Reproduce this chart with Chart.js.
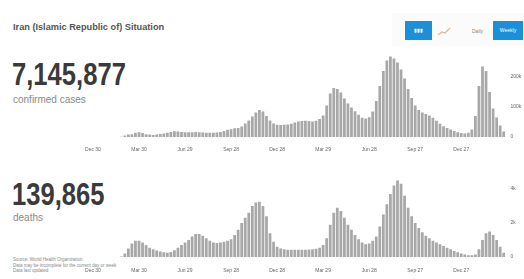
<!DOCTYPE html>
<html><head><meta charset="utf-8">
<script src="https://cdn.jsdelivr.net/npm/chart.js@4/dist/chart.umd.min.js"></script>
<style>
html,body{margin:0;padding:0;background:#fff;width:524px;height:279px;overflow:hidden;font-family:"Liberation Sans",Arial,sans-serif;}
.abs{position:absolute;}
#title{left:13px;top:22px;font-size:9.2px;font-weight:bold;color:#555;white-space:nowrap;}
.big{left:12px;font-size:32px;font-weight:bold;color:#3a3a3a;transform:scaleX(0.8);transform-origin:left top;white-space:nowrap;line-height:1;}
.sub{left:13px;font-size:10px;color:#8a8a8a;white-space:nowrap;}
.btn{background:#1b8fd8;color:#fff;font-size:5px;text-align:center;line-height:19px;height:19px;}
.src{left:13px;font-size:4.5px;color:#888;line-height:5.6px;white-space:nowrap;}
canvas{position:absolute;left:0;}
</style></head><body>
<div id="title" class="abs">Iran (Islamic Republic of) Situation</div>
<div class="abs big" style="top:58px">7,145,877</div>
<div class="abs sub" style="top:94px">confirmed cases</div>
<div class="abs big" style="top:178px">139,865</div>
<div class="abs sub" style="top:212px">deaths</div>
<div class="abs src" style="top:257px">Source: World Health Organization<br>Data may be incomplete for the current day or week<br>Data last updated</div>
<div class="abs" style="left:392px;top:13px;width:132px;height:33px;background:#fbfbfb;"></div>
<div class="abs btn" style="left:405px;top:21px;width:27px;">▮▮▮</div>
<svg class="abs" style="left:436px;top:25px" width="16" height="12"><polyline points="2,10 6,7 9,8 14,3" fill="none" stroke="#e0b98a" stroke-width="1.2"/></svg>
<div class="abs" style="left:472px;top:28px;font-size:5px;color:#888;">Daily</div>
<div class="abs btn" style="left:493px;top:21px;width:30px;">Weekly</div>
<canvas id="c1" width="524" height="120" style="top:40px"></canvas>
<canvas id="c2" width="524" height="119" style="top:160px"></canvas>
<script>
// weekly data, weeks starting Dec 30, 2019
const weekCount = 117;
const tickLabels = ["Dec 30","Mar 30","Jun 29","Sep 28","Dec 28","Mar 29","Jun 28","Sep 27","Dec 27"];
const caseTicks = [0, 100000, 200000];
const deathTicks = [0, 2000, 4000];
const casesK = [
 0,0,0,0,0,0,0,0.03,1.0,5.0,
 8.0,9.5,14,16,13,9,8,7,8,10,
 12,14,17,19,18,17,16,16,16,17,
 16,15,14,14,14,15,17,20,24,26,
 29,30,35,45,55,68,82,90,85,70,
 55,45,41,40,41,42,44,48,52,53,
 54,53,52,54,60,72,105,145,163,160,
 148,128,112,98,86,74,64,62,66,85,
 120,170,220,255,268,262,248,225,195,160,
 130,105,90,82,77,72,64,54,44,36,
 30,25,20,16,13,12,14,25,70,170,
 235,220,150,95,65,38,18
];
const deathsK = [
 0,0,0,0,0,0,0,0,0.03,0.2,
 0.5,0.8,0.95,0.95,0.85,0.7,0.55,0.45,0.38,0.32,
 0.28,0.25,0.3,0.4,0.55,0.7,0.85,1.0,1.2,1.35,
 1.35,1.25,1.1,0.95,0.85,0.82,0.85,0.9,0.95,1.05,
 1.3,1.6,2.0,2.3,2.6,3.0,3.2,3.25,3.0,2.4,
 1.4,0.9,0.6,0.5,0.45,0.42,0.42,0.42,0.42,0.42,
 0.43,0.44,0.45,0.48,0.55,0.7,1.1,1.9,2.6,2.9,
 2.7,2.3,1.9,1.6,1.3,1.05,0.85,0.75,0.8,0.95,
 1.2,1.8,2.5,3.1,3.7,4.2,4.5,4.3,3.6,2.9,
 2.4,2.0,1.7,1.45,1.25,1.1,0.95,0.85,0.75,0.65,
 0.55,0.45,0.35,0.28,0.2,0.15,0.1,0.1,0.15,0.45,
 1.0,1.4,1.5,1.3,1.0,0.6,0.25
];
const start = new Date(2019, 11, 30);
const weeks = [];
for (let i = 0; i < weekCount; i++) {
  const d = new Date(start.getTime() + i * 7 * 86400000);
  weeks.push(d.toISOString().slice(0,10));
}
Chart.defaults.font.family = '"Liberation Sans", Arial, sans-serif';
function make(id, values, max, tickVals, padTop, xh, tickPad) {
  new Chart(document.getElementById(id), {
    type: 'bar',
    data: { labels: weeks, datasets: [{ data: values.map(v => v * 1000), backgroundColor: '#a8a8a8', barPercentage: 0.78, categoryPercentage: 1 }] },
    options: {
      responsive: false, animation: false, devicePixelRatio: 1,
      layout: { padding: { left: 91.2, top: padTop, right: 0, bottom: 0 } },
      plugins: { legend: { display: false }, tooltip: { enabled: false } },
      scales: {
        x: {
          grid: { display: false, drawTicks: false }, border: { display: false },
          afterFit: s => { s.height = xh; },
          ticks: { autoSkip: false, maxRotation: 0, padding: tickPad, color: '#666', font: { size: 5 },
            callback: (v, i) => (i % 13 === 0 && i / 13 < tickLabels.length) ? tickLabels[i / 13] : '' }
        },
        y: {
          position: 'right', min: 0, max: max,
          grid: { display: false, drawTicks: false }, border: { display: false },
          afterFit: s => { s.width = 18.5; },
          afterBuildTicks: s => { s.ticks = tickVals.map(v => ({ value: v })); },
          ticks: { padding: 5, color: '#666', font: { size: 5 },
            callback: v => v === 0 ? '0' : (v / 1000) + 'k' }
        }
      }
    }
  });
}
make('c1', casesK, 290000, caseTicks, 10, 23, 10);
make('c2', deathsK, 4820, deathTicks, 15, 22, 11);
</script>
</body></html>
